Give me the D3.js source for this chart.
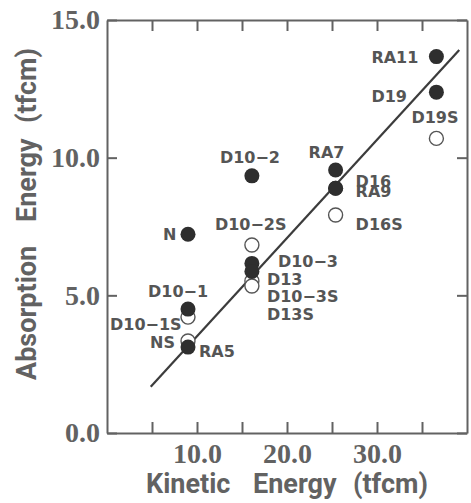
<!DOCTYPE html>
<html>
<head>
<meta charset="utf-8">
<script src="https://cdn.jsdelivr.net/npm/d3@7"></script>
<style>
  body { margin: 0; background: #fff; }
  svg { display: block; }
</style>
</head>
<body>
<script>
// data
var names = ['RA11', 'D19', 'D19S', 'RA7', 'RA9', 'D16', 'D16S',
  'D10\u22122', 'D10\u22122S', 'D10\u22123', 'D13', 'D10\u22123S', 'D13S',
  'N', 'D10\u22121', 'D10\u22121S', 'NS', 'RA5'];
var kinetic = [36.6, 36.6, 36.6, 25.4, 25.4, 25.4, 25.4,
  16.1, 16.1, 16.1, 16.1, 16.1, 16.1,
  9.0, 9.0, 9.0, 9.0, 9.0];
var absorption = [13.67, 12.38, 10.70, 9.55, 8.89, 8.89, 7.92,
  9.34, 6.83, 6.16, 5.87, 5.52, 5.34,
  7.22, 4.50, 4.21, 3.34, 3.12];
var solid = [true, true, false, true, true, true, false,
  true, false, true, true, false, false,
  true, true, false, false, true];
var fitLine = [[4.86, 1.68], [39.14, 13.91]];
var xTicks = [5, 10, 15, 20, 25, 30, 35];
var xLabeled = [10, 20, 30];
var yTicks = [0, 5, 10, 15];

// label placement (px offsets from the point)
var labelOffsets = {
  'RA11': [-65, 6], 'D19': [-65, 10], 'D19S': [-25, -15],
  'RA7': [-27, -12], 'RA9': [20, 9], 'D16': [20, -1], 'D16S': [20, 15],
  'D10\u22122': [-32, -13], 'D10\u22122S': [-37, -15], 'D10\u22123': [26, 4],
  'D13': [15, 14], 'D10\u22123S': [15, 21], 'D13S': [15, 34],
  'N': [-25, 6], 'D10\u22121': [-40, -12], 'D10\u22121S': [-78, 13],
  'NS': [-38, 7], 'RA5': [11, 10]
};

var W = 471, H = 503;
var margin = {top: 20, right: 4, bottom: 70, left: 107};
var w = W - margin.left - margin.right;
var h = H - margin.top - margin.bottom;

var gray = '#626262';

var svg = d3.select('body').append('svg')
  .attr('width', W)
  .attr('height', H);

var g = svg.append('g')
  .attr('transform', 'translate(' + margin.left + ',' + margin.top + ')');

var x = d3.scaleLinear().domain([0, 40]).range([0, w]);
var y = d3.scaleLinear().domain([0, 15]).range([h, 0]);

var fmt = d3.format('.1f');

var xBottom = g.append('g')
  .attr('transform', 'translate(0,' + h + ')')
  .call(d3.axisBottom(x).tickValues(xTicks).tickSize(-11).tickSizeOuter(0).tickPadding(10)
    .tickFormat(function(d) { return xLabeled.indexOf(d) >= 0 ? fmt(d) : ''; }));

var xTop = g.append('g')
  .call(d3.axisTop(x).tickValues(xTicks).tickSize(-11).tickSizeOuter(0).tickFormat(''));

var yLeft = g.append('g')
  .call(d3.axisLeft(y).tickValues(yTicks).tickSize(-10).tickSizeOuter(0).tickPadding(7)
    .tickFormat(fmt));

var yRight = g.append('g')
  .attr('transform', 'translate(' + w + ',0)')
  .call(d3.axisRight(y).tickValues(yTicks).tickSize(-10).tickSizeOuter(0).tickFormat(''));

[xBottom, xTop, yLeft, yRight].forEach(function(a) {
  a.select('.domain').attr('stroke', gray).attr('stroke-width', 2);
  a.selectAll('.tick line').attr('stroke', gray).attr('stroke-width', 2);
  a.selectAll('.tick text')
    .attr('fill', gray)
    .style('font-family', '"Liberation Serif", serif')
    .style('font-weight', 'bold')
    .style('font-size', '28px');
});

// regression line
g.append('line')
  .attr('x1', x(fitLine[0][0])).attr('y1', y(fitLine[0][1]))
  .attr('x2', x(fitLine[1][0])).attr('y2', y(fitLine[1][1]))
  .attr('stroke', '#3c3c3c')
  .attr('stroke-width', 2.2);

var points = names.map(function(n, i) {
  return {name: n, kx: kinetic[i], ay: absorption[i], solid: solid[i]};
});

// open ones underneath, solid ones on top
var ordered = points.filter(function(d) { return !d.solid; })
  .concat(points.filter(function(d) { return d.solid; }));

g.selectAll('circle.pt').data(ordered).enter().append('circle')
  .attr('class', 'pt')
  .attr('cx', function(d) { return x(d.kx); })
  .attr('cy', function(d) { return y(d.ay); })
  .attr('r', function(d) { return d.solid ? 7.5 : 7; })
  .attr('fill', function(d) { return d.solid ? '#2e2e2e' : '#fff'; })
  .attr('stroke', function(d) { return d.solid ? '#2e2e2e' : '#555'; })
  .attr('stroke-width', function(d) { return d.solid ? 0 : 1.4; });

g.selectAll('text.lbl').data(points).enter().append('text')
  .attr('class', 'lbl')
  .attr('x', function(d) { return x(d.kx) + labelOffsets[d.name][0]; })
  .attr('y', function(d) { return y(d.ay) + labelOffsets[d.name][1]; })
  .attr('fill', '#555')
  .style('font-family', '"DejaVu Sans", sans-serif')
  .style('font-weight', 'bold')
  .style('font-size', '16px')
  .text(function(d) { return d.name; });

// axis titles
var xt = svg.append('text')
  .attr('y', 493)
  .attr('fill', gray)
  .style('font-family', 'Roboto, sans-serif')
  .style('font-weight', 'bold')
  .style('font-size', '27px');
xt.append('tspan').attr('x', 146).text('Kinetic');
xt.append('tspan').attr('x', 253).text('Energy');
xt.append('tspan').attr('x', 353).text('(tfcm)');

var yt = svg.append('text')
  .attr('transform', 'translate(36,0) rotate(-90)')
  .attr('fill', gray)
  .style('font-family', 'Roboto, sans-serif')
  .style('font-weight', 'bold')
  .style('font-size', '27px');
yt.append('tspan').attr('x', -380).text('Absorption');
yt.append('tspan').attr('x', -222).text('Energy');
yt.append('tspan').attr('x', -123).text('(tfcm)');
</script>
</body>
</html>
